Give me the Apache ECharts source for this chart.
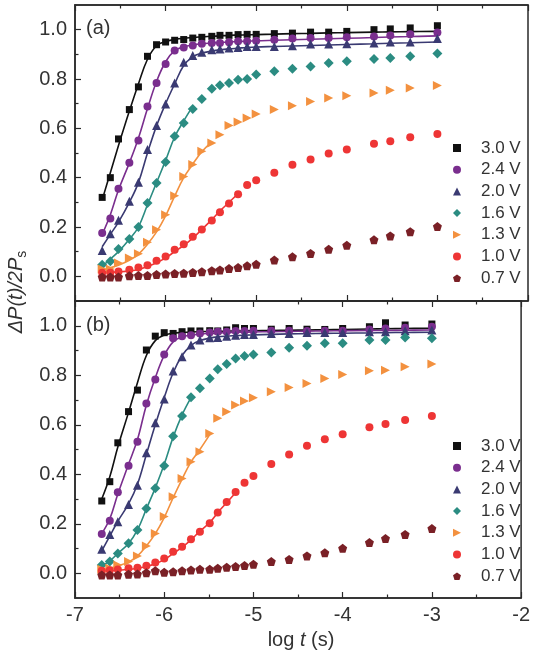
<!DOCTYPE html>
<html><head><meta charset="utf-8">
<script src="https://cdn.jsdelivr.net/npm/echarts@6/dist/echarts.min.js"></script>
<style>html,body{margin:0;padding:0;background:#fff}#c{width:533px;height:656px}</style>
</head><body><div id="c"></div>
<script>
// log t (s)
const X = [-6.70, -6.61, -6.52, -6.40, -6.30, -6.20, -6.10, -6.00, -5.90, -5.80, -5.70, -5.60, -5.49, -5.40, -5.30, -5.20, -5.10, -5.00, -4.80, -4.60, -4.40, -4.20, -4.00, -3.70, -3.52, -3.30, -3.00];
const voltages = ['3.0 V', '2.4 V', '2.0 V', '1.6 V', '1.3 V', '1.0 V', '0.7 V'];
const xTicks = [-7, -6, -5, -4, -3, -2];
const yTickLabels = [0, 0.2, 0.4, 0.6, 0.8, 1.0];
const yMinorTicks = [0.1, 0.3, 0.5, 0.7, 0.9];

// panel (a) measured points
const a30 = [0.32, 0.40, 0.557, 0.676, 0.768, 0.892, 0.939, 0.95, 0.957, 0.96, 0.966, 0.969, 0.973, 0.977, 0.977, 0.98, 0.981, 0.981, 0.984, 0.986, 0.99, 0.99, 0.993, 1.0, 1.003, 1.007, 1.016];
const a24 = [0.176, 0.234, 0.355, 0.46, 0.551, 0.689, 0.784, 0.861, 0.916, 0.928, 0.936, 0.943, 0.946, 0.946, 0.949, 0.953, 0.953, 0.955, 0.959, 0.964, 0.966, 0.966, 0.969, 0.972, 0.976, 0.981, 0.989];
const a20 = [0.105, 0.173, 0.227, 0.304, 0.381, 0.514, 0.611, 0.699, 0.784, 0.868, 0.895, 0.908, 0.919, 0.922, 0.926, 0.928, 0.932, 0.932, 0.932, 0.935, 0.942, 0.942, 0.943, 0.946, 0.95, 0.95, 0.964];
const a16 = [0.047, 0.061, 0.111, 0.151, 0.2, 0.297, 0.378, 0.464, 0.568, 0.622, 0.678, 0.719, 0.76, 0.775, 0.784, 0.797, 0.8, 0.818, 0.831, 0.842, 0.851, 0.865, 0.872, 0.881, 0.885, 0.892, 0.903];
const a13 = [0.03, 0.03, 0.054, 0.074, 0.092, 0.138, 0.189, 0.25, 0.327, 0.405, 0.453, 0.507, 0.541, 0.574, 0.611, 0.626, 0.642, 0.658, 0.676, 0.692, 0.709, 0.723, 0.732, 0.743, 0.754, 0.764, 0.774];
const a10 = [0.015, 0.015, 0.02, 0.027, 0.036, 0.045, 0.063, 0.08, 0.108, 0.13, 0.16, 0.19, 0.226, 0.26, 0.295, 0.333, 0.37, 0.39, 0.42, 0.452, 0.474, 0.498, 0.514, 0.537, 0.548, 0.564, 0.577];
const a07 = [-0.003, -0.003, -0.003, 0.002, 0.003, 0.003, 0.007, 0.009, 0.011, 0.013, 0.016, 0.019, 0.023, 0.026, 0.032, 0.036, 0.043, 0.049, 0.066, 0.079, 0.093, 0.11, 0.126, 0.148, 0.164, 0.181, 0.202];

// panel (a) fitted curves
const aFit30 = [0.31, 0.42, 0.53, 0.67, 0.78, 0.88, 0.935, 0.952, 0.96, 0.965, 0.968, 0.971, 0.973, 0.975, 0.977, 0.978, 0.979, 0.98, 0.982, 0.984, 0.985, 0.987, 0.988, 0.99, 0.991, 0.992, 0.993];
const aFit24 = [0.17, 0.25, 0.35, 0.46, 0.56, 0.68, 0.79, 0.87, 0.915, 0.93, 0.938, 0.943, 0.946, 0.948, 0.95, 0.952, 0.953, 0.955, 0.957, 0.959, 0.961, 0.963, 0.965, 0.968, 0.97, 0.972, 0.975];
const aFit20 = [0.12, 0.17, 0.22, 0.30, 0.38, 0.50, 0.61, 0.70, 0.78, 0.855, 0.89, 0.905, 0.913, 0.918, 0.922, 0.925, 0.928, 0.93, 0.932, 0.934, 0.936, 0.938, 0.94, 0.943, 0.945, 0.947, 0.95];
const aFit16 = [0.04, 0.07, 0.10, 0.15, 0.20, 0.29, 0.38, 0.47, 0.565, 0.63, 0.69];
const aFit13 = [0.025, 0.035, 0.045, 0.065, 0.09, 0.13, 0.18, 0.245, 0.325, 0.40, 0.455, 0.505, 0.545];
const aFit10 = [0.015, 0.016, 0.018, 0.022, 0.028, 0.04, 0.055, 0.075, 0.10, 0.125, 0.155, 0.19, 0.23, 0.265, 0.30, 0.335];

// panel (b) measured points
const b30 = [0.292, 0.37, 0.527, 0.653, 0.74, 0.902, 0.958, 0.972, 0.969, 0.976, 0.979, 0.979, 0.98, 0.979, 0.983, 0.992, 0.989, 0.989, 0.986, 0.989, 0.986, 0.985, 0.989, 0.996, 1.012, 1.003, 1.007];
const b24 = [0.159, 0.212, 0.327, 0.434, 0.531, 0.686, 0.783, 0.884, 0.949, 0.958, 0.962, 0.969, 0.973, 0.976, 0.976, 0.979, 0.979, 0.98, 0.98, 0.98, 0.979, 0.98, 0.98, 0.985, 0.989, 0.992, 0.996];
const b20 = [0.097, 0.157, 0.208, 0.278, 0.356, 0.487, 0.608, 0.704, 0.817, 0.875, 0.922, 0.942, 0.952, 0.953, 0.958, 0.962, 0.965, 0.965, 0.969, 0.969, 0.973, 0.973, 0.973, 0.976, 0.976, 0.98, 0.983];
const b16 = [0.033, 0.047, 0.08, 0.121, 0.175, 0.262, 0.343, 0.434, 0.554, 0.635, 0.711, 0.747, 0.787, 0.824, 0.845, 0.868, 0.878, 0.884, 0.892, 0.911, 0.919, 0.929, 0.929, 0.942, 0.942, 0.953, 0.949];
const b13 = [0.016, 0.02, 0.033, 0.047, 0.07, 0.11, 0.161, 0.229, 0.309, 0.383, 0.451, 0.491, 0.565, 0.626, 0.653, 0.68, 0.696, 0.709, 0.733, 0.751, 0.767, 0.787, 0.803, 0.818, 0.82, 0.834, 0.845];
const b10 = [0.01, 0.012, 0.015, 0.02, 0.022, 0.03, 0.043, 0.06, 0.087, 0.107, 0.137, 0.168, 0.202, 0.245, 0.288, 0.328, 0.366, 0.393, 0.441, 0.48, 0.515, 0.541, 0.562, 0.59, 0.603, 0.619, 0.635];
const b07 = [-0.007, -0.007, -0.007, -0.004, -0.003, 0.002, 0.01, 0.004, 0.006, 0.01, 0.013, 0.016, 0.016, 0.02, 0.024, 0.027, 0.031, 0.036, 0.047, 0.056, 0.07, 0.083, 0.101, 0.124, 0.14, 0.157, 0.181];

// panel (b) fitted curves
const bFit30 = [0.30, 0.39, 0.51, 0.65, 0.77, 0.88, 0.94, 0.962, 0.97, 0.973, 0.975, 0.976, 0.977, 0.978, 0.978, 0.979, 0.979, 0.98, 0.981, 0.982, 0.983, 0.984, 0.985, 0.987, 0.988, 0.989, 0.99];
const bFit24 = [0.16, 0.22, 0.32, 0.44, 0.54, 0.68, 0.79, 0.88, 0.935, 0.955, 0.962, 0.966, 0.969, 0.971, 0.972, 0.973, 0.974, 0.975, 0.976, 0.977, 0.978, 0.979, 0.98, 0.981, 0.981, 0.982, 0.983];
const bFit20 = [0.09, 0.15, 0.21, 0.28, 0.36, 0.48, 0.60, 0.71, 0.81, 0.88, 0.92, 0.94, 0.95, 0.955, 0.958, 0.96, 0.962, 0.963, 0.965, 0.967, 0.968, 0.969, 0.97, 0.971, 0.972, 0.973, 0.974];
const bFit16 = [0.03, 0.05, 0.08, 0.12, 0.175, 0.26, 0.345, 0.44, 0.55, 0.64, 0.71];
const bFit13 = [0.015, 0.02, 0.03, 0.045, 0.07, 0.11, 0.16, 0.225, 0.305, 0.38, 0.45, 0.50, 0.56];
const bFit10 = [0.01, 0.011, 0.012, 0.015, 0.02, 0.027, 0.038, 0.055, 0.08, 0.105, 0.135, 0.17, 0.205, 0.245, 0.285, 0.325];

const colors = ['#111111', '#7a2e8e', '#3a3a72', '#2b8c82', '#f3913f', '#ee3535', '#7a2026'];
const PENT = 'path://M0,-1 L0.951,-0.309 L0.588,0.809 L-0.588,0.809 L-0.951,-0.309 Z';
const RTRI = 'path://M0,0 L10,5 L0,10 Z';
const symbols = ['rect', 'circle', 'triangle', 'diamond', 'triangle', 'circle', PENT];
const rotates = [0, 0, 0, 0, -90, 0, 0];
const sizes = [7, 8, 9, 10, 9, 8, 9];

const panels = [
  {pts: [a30, a24, a20, a16, a13, a10, a07], fits: [aFit30, aFit24, aFit20, aFit16, aFit13, aFit10, null]},
  {pts: [b30, b24, b20, b16, b13, b10, b07], fits: [bFit30, bFit24, bFit20, bFit16, bFit13, bFit10, null]}
];

const AX = '#2a2a2a';
const LBL = '#333';
const FONT = 'Liberation Sans, Arial, sans-serif';

const grids = [
  {left: 75, top: 5, width: 453, height: 296, show: true, borderColor: AX, borderWidth: 1.5, backgroundColor: 'transparent'},
  {left: 75, top: 301, width: 453, height: 297, show: true, borderColor: AX, borderWidth: 1.5, backgroundColor: 'transparent'}
];

const xAxes = [], yAxes = [], series = [];
[0, 1].forEach(g => {
  ['bottom', 'top'].forEach(pos => {
    xAxes.push({
      type: 'value', gridIndex: g, position: pos, min: -7, max: -2, interval: 1,
      axisLine: {show: true, onZero: false, lineStyle: {color: AX, width: 1.5}},
      axisTick: {show: true, inside: true, length: 6, lineStyle: {color: AX, width: 1.2}},
      minorTick: {show: true, splitNumber: 2, length: 3.5, lineStyle: {color: AX, width: 1.2}},
      splitLine: {show: false},
      axisLabel: {show: g === 1 && pos === 'bottom', fontSize: 20, color: LBL, fontFamily: FONT, margin: 7,
        formatter: v => xTicks.includes(Math.round(v)) ? String(Math.round(v)) : ''}
    });
  });
  yAxes.push({
    type: 'value', gridIndex: g, position: 'left', min: -0.1, max: 1.1,
    axisLine: {show: true, onZero: false, lineStyle: {color: AX, width: 1.5}},
    axisTick: {show: true, inside: true, length: 6, customValues: yTickLabels, lineStyle: {color: AX, width: 1.2}},
    splitLine: {show: false},
    axisLabel: {show: true, customValues: yTickLabels, fontSize: 20, color: LBL, fontFamily: FONT, margin: 8,
      formatter: v => v.toFixed(1)}
  });
  yAxes.push({
    type: 'value', gridIndex: g, position: 'left', min: -0.1, max: 1.1,
    axisLine: {show: false, onZero: false},
    axisTick: {show: true, inside: true, length: 3.5, customValues: yMinorTicks, lineStyle: {color: AX, width: 1.2}},
    splitLine: {show: false},
    axisLabel: {show: false}
  });
});

panels.forEach((p, g) => {
  p.fits.forEach((f, k) => {
    if (!f) return;
    series.push({
      type: 'line', name: 'fit-' + g + '-' + k, xAxisIndex: g * 2, yAxisIndex: g * 2,
      data: f.map((v, i) => [X[i], v]), smooth: 0.4, showSymbol: false, symbol: 'none',
      lineStyle: {color: colors[k], width: 1.6}, z: 2, silent: true
    });
  });
  p.pts.forEach((vals, k) => {
    series.push({
      type: 'scatter', name: voltages[k], xAxisIndex: g * 2, yAxisIndex: g * 2,
      data: vals.map((v, i) => [X[i], v]),
      symbol: symbols[k], symbolSize: sizes[k], symbolRotate: rotates[k],
      itemStyle: {color: colors[k], opacity: 1}, z: 3
    });
  });
});

const legendData = voltages.map((v, k) => k === 4 ? {name: v, icon: RTRI} : v);
const legendBase = {
  orient: 'vertical', left: 453, padding: 0, itemWidth: 8, itemHeight: 8, itemGap: 1.7,
  data: legendData, selectedMode: false,
  textStyle: {fontSize: 17, lineHeight: 20, color: LBL, fontFamily: FONT, padding: [0, 0, 0, 15]}
};

const option = {
  animation: false,
  backgroundColor: '#fff',
  grid: grids,
  xAxis: xAxes,
  yAxis: yAxes,
  legend: [Object.assign({}, legendBase, {top: 138}), Object.assign({}, legendBase, {top: 436})],
  series: series,
  graphic: [
    {type: 'text', left: 86, top: 18, style: {text: '(a)', fontSize: 20, fill: LBL, fontFamily: FONT}},
    {type: 'text', left: 86, top: 315, style: {text: '(b)', fontSize: 20, fill: LBL, fontFamily: FONT}},
    {type: 'text', x: 16, y: 292, rotation: Math.PI / 2,
      style: {text: '{n|Δ}{i|P}{n|(}{i|t}{n|)/2}{i|P}{s|s}', align: 'center', verticalAlign: 'middle', fill: LBL,
        rich: {
          n: {fontSize: 20, fontFamily: FONT, fill: LBL, fontStyle: 'italic'},
          i: {fontSize: 20, fontFamily: FONT, fill: LBL, fontStyle: 'italic'},
          s: {fontSize: 14, fontFamily: FONT, fill: LBL, padding: [12, 0, 0, 0]}
        }}},
    {type: 'text', x: 301, y: 640,
      style: {text: '{n|log }{i|t}{n| (s)}', align: 'center', verticalAlign: 'middle', fill: LBL,
        rich: {
          n: {fontSize: 20, fontFamily: FONT, fill: LBL},
          i: {fontSize: 20, fontFamily: FONT, fill: LBL, fontStyle: 'italic'}
        }}}
  ]
};

const chart = echarts.init(document.getElementById('c'), null, {renderer: 'canvas'});
chart.setOption(option);
</script>
</body></html>
